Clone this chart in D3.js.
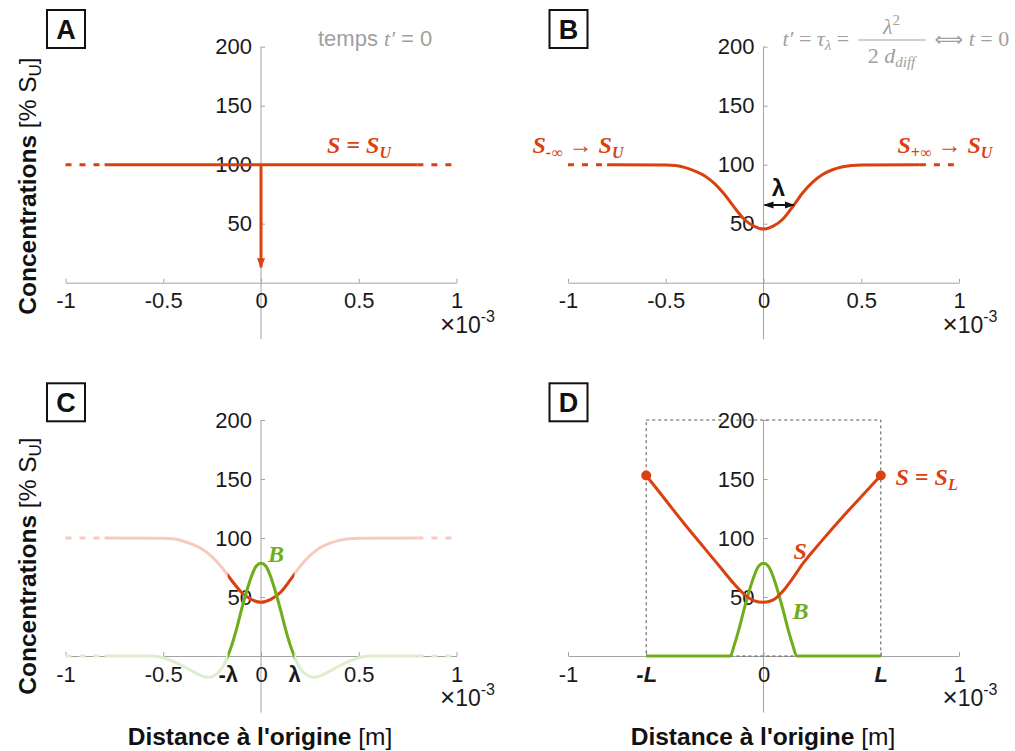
<!DOCTYPE html>
<html><head><meta charset="utf-8">
<script src="https://cdn.jsdelivr.net/npm/d3@7"></script>
<style>
body{margin:0;background:#fff}
text{font-family:"Liberation Sans",Arial,sans-serif}
.serif{font-family:"Liberation Serif","Times New Roman",serif}
</style>
</head><body>
<svg id="chart" width="1015" height="751"></svg>
<script>
// ---------- data (x in units of 1e-3 m, y in % S_U) ----------
const xTicks = [-1, -0.5, 0, 0.5, 1];
const xTickLabels = ["-1", "-0.5", "0", "0.5", "1"];
const yTicks = [50, 100, 150, 200];
const yTickLabels = ["50", "100", "150", "200"];
const cTickPos = [-1, -0.5, -0.17, 0, 0.17, 0.5, 1];
const cTickLabels = ["-1", "-0.5", "-λ", "0", "λ", "0.5", "1"];
const dTickPos = [-1, -0.6, 0, 0.6, 1];
const dTickLabels = ["-1", "-L", "0", "L", "1"];

// Panel A : uniform S = S_U
const aX = [-0.8, 0.8];
const aY = [100, 100];
const arrowX = [0, 0];
const arrowY = [100, 13];

// dotted tails (x from, x to)
const tailLeft = [-1, -0.8];
const tailRight = [0.8, 1];

// Panel B / C : S profile
const sProfX = [-0.8, -0.5, -0.45, -0.4, -0.35, -0.3, -0.25, -0.2, -0.15, -0.1, -0.05, 0, 0.05, 0.1, 0.15, 0.2, 0.25, 0.3, 0.35, 0.4, 0.45, 0.5, 0.8];
const sProfY = [100, 99.8, 99.3, 97.5, 94.5, 90.5, 84, 75, 64, 54, 48, 45.5, 48, 54, 64.5, 76, 85, 91.5, 95.5, 98, 99.3, 99.8, 100];

// Panel C : B profile
const bProfX = [-0.8, -0.55, -0.5, -0.45, -0.4, -0.35, -0.3, -0.275, -0.25, -0.225, -0.2, -0.17, -0.15, -0.125, -0.1, -0.075, -0.05, -0.025, 0, 0.025, 0.05, 0.075, 0.1, 0.125, 0.15, 0.17, 0.2, 0.225, 0.25, 0.275, 0.3, 0.35, 0.4, 0.45, 0.5, 0.55, 0.8];
const bProfY = [0, 0, -1.5, -4.5, -8.5, -13, -17, -18, -17.5, -15, -10.5, 0, 9, 23, 39, 54, 67, 76, 78.5, 76, 67, 54, 39, 23, 9, 0, -10.5, -15, -17.5, -18, -17, -13, -8.5, -4.5, -1.5, 0, 0];
const lambda = 0.17;

// Panel D : bounded domain
const sDX = [-0.6, -0.5, -0.4, -0.3, -0.2, -0.15, -0.1, -0.05, 0, 0.05, 0.1, 0.15, 0.2, 0.3, 0.4, 0.5, 0.6];
const sDY = [153, 132, 111, 91, 71, 61, 52.5, 47, 45.5, 47.5, 55, 66, 78, 98, 117, 135, 153];
const bDX = [-0.6, -0.17, -0.15, -0.125, -0.1, -0.075, -0.05, -0.025, 0, 0.025, 0.05, 0.075, 0.1, 0.125, 0.15, 0.17, 0.6];
const bDY = [0, 0, 9, 23, 39, 54, 67, 76, 78.5, 76, 67, 54, 39, 23, 9, 0, 0];
const boundL = 0.6;
const sLvalue = 153;

// ---------- style ----------
const RED = "#d9420f", GREEN = "#70ad1c", PRED = "#f6cbbf", PGREEN = "#deedcc";
const AXIS = "#a3a3a3", GRAY = "#a0a0a0";

const svg = d3.select("#chart");
const defs = svg.append("defs");
function marker(id, color, path, refX) {
  defs.append("marker").attr("id", id).attr("viewBox", "0 0 10 10")
    .attr("refX", refX).attr("refY", 5).attr("markerWidth", 10).attr("markerHeight", 10)
    .attr("markerUnits", "userSpaceOnUse").attr("orient", "auto")
    .append("path").attr("d", path).attr("fill", color);
}
marker("arrRed", RED, "M0,1 L10,5 L0,9 Z", 9);
marker("arrBlkE", "#111", "M0,1.5 L10,5 L0,8.5 Z", 9);
marker("arrBlkS", "#111", "M10,1.5 L0,5 L10,8.5 Z", 1);

const x = d3.scaleLinear().domain([-1, 1]).range([65.5, 456.5]);
const y = d3.scaleLinear().domain([0, 200]).range([282.7, 46.7]);
const line = d3.line().x(d => x(d[0])).y(d => y(d[1])).curve(d3.curveMonotoneX);
const zip = (a, b) => a.map((v, i) => [v, b[i]]);

function panel(dx, dy, letter, tickPos, tickLabels, tickStyle) {
  const g = svg.append("g").attr("transform", `translate(${dx},${dy})`);
  g.append("line").attr("x1", x(0)).attr("x2", x(0)).attr("y1", y(200)).attr("y2", y(-48))
    .attr("stroke", AXIS).attr("stroke-width", 1);
  const ya = d3.axisLeft(y).tickValues(yTicks).tickFormat((d, i) => yTickLabels[i])
    .tickSizeInner(-4).tickSizeOuter(0).tickPadding(9);
  const yg = g.append("g").attr("transform", `translate(${x(0)},0)`).call(ya);
  yg.select(".domain").remove();
  yg.selectAll("line").attr("stroke", AXIS);
  yg.selectAll("text").attr("font-size", 22).attr("fill", "#1a1a1a").attr("font-family", "Liberation Sans, Arial, sans-serif");
  const xa = d3.axisBottom(x).tickValues(tickPos).tickFormat((d, i) => tickLabels[i])
    .tickSizeInner(-4).tickSizeOuter(0).tickPadding(10);
  const xg = g.append("g").attr("transform", `translate(0,${y(0)})`).call(xa);
  xg.select(".domain").attr("stroke", AXIS);
  xg.selectAll("line").attr("stroke", AXIS);
  xg.selectAll("text").attr("font-size", 22).attr("fill", "#1a1a1a").attr("font-family", "Liberation Sans, Arial, sans-serif");
  if (tickStyle) xg.selectAll("text").each(function (d, i) { tickStyle(d3.select(this), tickLabels[i]); });
  const ex = g.append("text").attr("x", 440).attr("y", 333).attr("font-size", 23).attr("fill", "#1a1a1a");
  ex.append("tspan").attr("font-size", 26).attr("font-weight", 300).text("×");
  ex.append("tspan").text("10");
  ex.append("tspan").attr("font-size", 16).attr("dy", -11).text("-3");
  g.append("rect").attr("x", 47).attr("y", 10).attr("width", 38).attr("height", 38)
    .attr("fill", "#fff").attr("stroke", "#111").attr("stroke-width", 2);
  g.append("text").attr("x", 66).attr("y", 39).attr("text-anchor", "middle")
    .attr("font-size", 27).attr("font-weight", "bold").attr("fill", "#111").text(letter);
  return g;
}

function yLabel(cy) {
  const t = svg.append("text").attr("transform", `translate(36,${cy}) rotate(-90)`)
    .attr("text-anchor", "middle").attr("font-size", 24.5).attr("fill", "#111");
  t.append("tspan").attr("font-weight", "bold").text("Concentrations");
  t.append("tspan").text(" [% S");
  t.append("tspan").attr("font-size", 17).attr("dy", 5).text("U");
  t.append("tspan").attr("dy", -5).text("]");
}
function xLabel(cx) {
  const t = svg.append("text").attr("x", cx).attr("y", 745).attr("text-anchor", "middle")
    .attr("font-size", 24.5).attr("fill", "#111");
  t.append("tspan").attr("font-weight", "bold").text("Distance à l'origine");
  t.append("tspan").text(" [m]");
}
function dotted(g, xs, val, color) {
  g.append("path").attr("d", line([[xs[0], val], [xs[1], val]])).attr("fill", "none")
    .attr("stroke", color).attr("stroke-width", 3).attr("stroke-dasharray", "6,8");
}
function curve(g, xs, ys, color, w, clipId) {
  const p = g.append("path").attr("d", line(zip(xs, ys))).attr("fill", "none")
    .attr("stroke", color).attr("stroke-width", w || 3).attr("stroke-linejoin", "round");
  if (clipId) p.attr("clip-path", `url(#${clipId})`);
  return p;
}
function label(g, xx, yy, parts, color, size) {
  const t = g.append("text").attr("x", xx).attr("y", yy).attr("fill", color)
    .attr("font-size", size || 24).attr("font-weight", "bold").attr("font-style", "italic")
    .attr("class", "serif");
  parts.forEach(p => {
    const s = t.append("tspan").text(p.t);
    if (p.sub) s.attr("font-size", 16).attr("dy", p.dy);
    else if (p.dy) s.attr("dy", p.dy);
  });
  return t;
}

// ---------- Panel A ----------
const gA = panel(0, 0, "A", xTicks, xTickLabels);
dotted(gA, tailLeft, 100, RED); dotted(gA, tailRight, 100, RED);
curve(gA, aX, aY, RED, 3);
gA.append("path").attr("d", d3.line()(zip(arrowX, arrowY).map(d => [x(d[0]), y(d[1])])))
  .attr("stroke", RED).attr("stroke-width", 3).attr("marker-end", "url(#arrRed)");
label(gA, 327, 153, [{t: "S = S"}, {t: "U", sub: true, dy: 5}], RED);
const tA = gA.append("text").attr("x", 318).attr("y", 46).attr("fill", GRAY).attr("font-size", 22);
tA.append("tspan").text("temps  ");
tA.append("tspan").attr("class", "serif").attr("font-style", "italic").text("t′");
tA.append("tspan").text(" = 0");

// ---------- Panel B ----------
const gB = panel(502.5, 0, "B", xTicks, xTickLabels);
dotted(gB, tailLeft, 100, RED); dotted(gB, tailRight, 100, RED);
curve(gB, sProfX, sProfY, RED, 3);
label(gB, 30, 153, [{t: "S"}, {t: "-∞", sub: true, dy: 5}, {t: " → S", dy: -5}, {t: "U", sub: true, dy: 5}], RED);
label(gB, 395, 153, [{t: "S"}, {t: "+∞", sub: true, dy: 5}, {t: " → S", dy: -5}, {t: "U", sub: true, dy: 5}], RED);
gB.append("line").attr("x1", x(0) + 1).attr("x2", x(0.155)).attr("y1", 205).attr("y2", 205)
  .attr("stroke", "#111").attr("stroke-width", 2)
  .attr("marker-start", "url(#arrBlkS)").attr("marker-end", "url(#arrBlkE)");
gB.append("text").attr("x", 276).attr("y", 196).attr("text-anchor", "middle").attr("font-size", 24)
  .attr("font-weight", "bold").attr("fill", "#111").text("λ");
// formula
const fB = gB.append("text").attr("x", 280).attr("y", 46).attr("fill", GRAY).attr("font-size", 22).attr("class", "serif");
fB.append("tspan").attr("font-style", "italic").text("t′");
fB.append("tspan").text(" = ");
fB.append("tspan").attr("font-style", "italic").text("τ");
fB.append("tspan").attr("font-style", "italic").attr("font-size", 15).attr("dy", 4).text("λ");
fB.append("tspan").attr("dy", -4).text(" =");
gB.append("line").attr("x1", 356).attr("x2", 423).attr("y1", 40).attr("y2", 40).attr("stroke", GRAY).attr("stroke-width", 1.2);
const num = gB.append("text").attr("x", 389).attr("y", 34).attr("text-anchor", "middle").attr("fill", GRAY).attr("font-size", 22).attr("class", "serif");
num.append("tspan").attr("font-style", "italic").text("λ");
num.append("tspan").attr("font-size", 15).attr("dy", -9).text("2");
const den = gB.append("text").attr("x", 389).attr("y", 63).attr("text-anchor", "middle").attr("fill", GRAY).attr("font-size", 22).attr("class", "serif");
den.append("tspan").text("2 ");
den.append("tspan").attr("font-style", "italic").text("d");
den.append("tspan").attr("font-style", "italic").attr("font-size", 15).attr("dy", 4).text("diff");
const eqB = gB.append("text").attr("x", 432).attr("y", 46).attr("fill", GRAY).attr("font-size", 22).attr("class", "serif");
eqB.append("tspan").attr("font-family", "DejaVu Sans").attr("font-size", 20).text("⟺");
eqB.append("tspan").attr("font-style", "italic").text(" t");
eqB.append("tspan").text(" = 0");

// ---------- Panel C ----------
const gC = panel(0, 373.3, "C", cTickPos, cTickLabels, (s, l) => {
  if (l.includes("λ")) s.attr("font-weight", "bold");
});
defs.append("clipPath").attr("id", "clipC").append("rect")
  .attr("x", x(-lambda)).attr("y", 0).attr("width", x(lambda) - x(-lambda)).attr("height", 400);
dotted(gC, tailLeft, 100, PRED); dotted(gC, tailRight, 100, PRED);
dotted(gC, tailLeft, 0, PGREEN); dotted(gC, tailRight, 0, PGREEN);
curve(gC, sProfX, sProfY, PRED, 3);
curve(gC, bProfX, bProfY, PGREEN, 3);
curve(gC, sProfX, sProfY, RED, 3, "clipC");
curve(gC, bProfX, bProfY, GREEN, 3, "clipC");
label(gC, 268, 189, [{t: "B"}], GREEN);

// ---------- Panel D ----------
const gD = panel(502.5, 373.3, "D", dTickPos, dTickLabels, (s, l) => {
  if (l.includes("L")) s.attr("font-weight", "bold").attr("font-style", "italic").attr("font-family", "Liberation Serif, serif");
});
gD.append("rect").attr("x", x(-boundL)).attr("y", y(200)).attr("width", x(boundL) - x(-boundL)).attr("height", y(0) - y(200))
  .attr("fill", "none").attr("stroke", "#555").attr("stroke-width", 1).attr("stroke-dasharray", "3,3");
curve(gD, bDX, bDY, GREEN, 3);
curve(gD, sDX, sDY, RED, 3);
gD.selectAll("circle.end").data([-boundL, boundL]).enter().append("circle")
  .attr("cx", d => x(d)).attr("cy", y(sLvalue)).attr("r", 5).attr("fill", RED);
label(gD, 393, 112, [{t: "S = S"}, {t: "L", sub: true, dy: 5}], RED);
label(gD, 291, 186, [{t: "S"}], RED);
label(gD, 290, 246, [{t: "B"}], GREEN);

// axis titles
yLabel(186); yLabel(566);
xLabel(260); xLabel(763);
</script>
</body></html>
